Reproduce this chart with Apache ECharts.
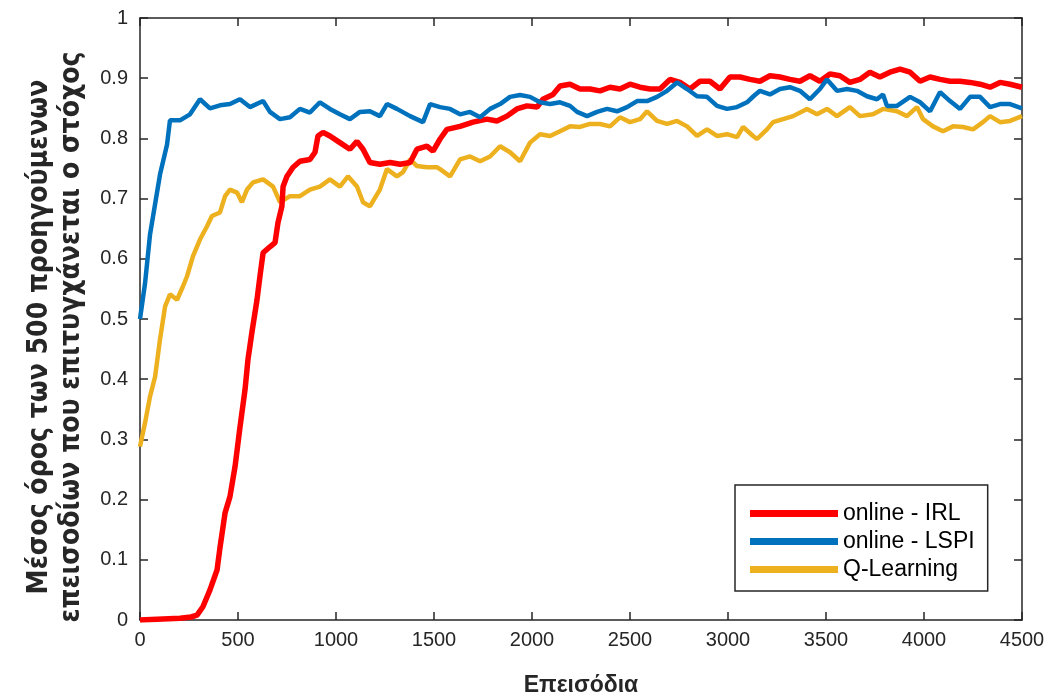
<!DOCTYPE html>
<html>
<head>
<meta charset="utf-8">
<script src="https://cdn.jsdelivr.net/npm/echarts@6/dist/echarts.min.js"></script>
<style>
  html, body { margin: 0; padding: 0; background: #fff; }
  #chart { width: 1054px; height: 698px; }
</style>
</head>
<body>
<div id="chart"></div>
<script>
// episodes and values
const irlX = [0, 204, 260, 291, 321, 357, 393, 408, 434, 459, 485, 510, 536, 551, 571, 597, 612, 628, 663, 689, 704, 724, 730, 750, 781, 816, 867, 893, 908, 934, 969, 1020, 1071, 1107, 1138, 1173, 1224, 1276, 1327, 1378, 1413, 1464, 1495, 1531, 1566, 1633, 1699, 1770, 1821, 1872, 1923, 1974, 2026, 2056, 2107, 2143, 2194, 2245, 2296, 2347, 2398, 2449, 2500, 2551, 2602, 2653, 2704, 2755, 2806, 2857, 2908, 2959, 3010, 3061, 3112, 3163, 3214, 3265, 3316, 3367, 3418, 3469, 3520, 3571, 3622, 3673, 3724, 3775, 3826, 3878, 3929, 3980, 4031, 4082, 4133, 4184, 4235, 4286, 4337, 4388, 4439, 4500]
const irlY = [0, 0.003, 0.005, 0.008, 0.022, 0.05, 0.083, 0.12, 0.178, 0.205, 0.255, 0.32, 0.383, 0.433, 0.478, 0.532, 0.571, 0.61, 0.62, 0.627, 0.66, 0.687, 0.72, 0.737, 0.752, 0.762, 0.765, 0.777, 0.804, 0.81, 0.804, 0.793, 0.782, 0.795, 0.782, 0.76, 0.757, 0.76, 0.757, 0.76, 0.782, 0.787, 0.779, 0.799, 0.815, 0.82, 0.827, 0.832, 0.829, 0.837, 0.849, 0.854, 0.852, 0.865, 0.873, 0.887, 0.89, 0.882, 0.882, 0.879, 0.885, 0.882, 0.89, 0.885, 0.882, 0.882, 0.898, 0.893, 0.882, 0.895, 0.895, 0.882, 0.902, 0.902, 0.898, 0.895, 0.904, 0.902, 0.898, 0.895, 0.904, 0.895, 0.907, 0.904, 0.893, 0.898, 0.91, 0.902, 0.91, 0.915, 0.91, 0.895, 0.902, 0.898, 0.895, 0.895, 0.893, 0.89, 0.885, 0.893, 0.89, 0.885]

const lspiX = [0, 26, 51, 102, 138, 153, 204, 255, 306, 357, 408, 459, 510, 561, 628, 663, 714, 765, 816, 867, 918, 969, 1020, 1071, 1122, 1173, 1224, 1260, 1311, 1378, 1444, 1480, 1531, 1582, 1633, 1684, 1735, 1786, 1837, 1888, 1939, 1990, 2041, 2092, 2143, 2194, 2230, 2281, 2332, 2383, 2434, 2485, 2536, 2587, 2638, 2689, 2740, 2791, 2842, 2893, 2944, 2995, 3046, 3097, 3130, 3163, 3214, 3265, 3316, 3367, 3418, 3469, 3505, 3556, 3607, 3658, 3709, 3760, 3791, 3811, 3862, 3929, 3980, 4031, 4082, 4133, 4184, 4235, 4286, 4337, 4388, 4439, 4500]
const lspiY = [0.5, 0.56, 0.64, 0.74, 0.79, 0.83, 0.83, 0.84, 0.865, 0.85, 0.855, 0.857, 0.865, 0.852, 0.862, 0.844, 0.832, 0.835, 0.849, 0.843, 0.86, 0.849, 0.84, 0.832, 0.844, 0.845, 0.837, 0.857, 0.849, 0.837, 0.827, 0.857, 0.852, 0.849, 0.84, 0.844, 0.835, 0.849, 0.857, 0.869, 0.872, 0.869, 0.86, 0.857, 0.86, 0.854, 0.844, 0.837, 0.844, 0.849, 0.845, 0.852, 0.862, 0.862, 0.869, 0.879, 0.893, 0.882, 0.87, 0.869, 0.854, 0.849, 0.852, 0.86, 0.87, 0.879, 0.873, 0.882, 0.885, 0.879, 0.865, 0.882, 0.898, 0.879, 0.882, 0.879, 0.87, 0.865, 0.873, 0.854, 0.854, 0.869, 0.86, 0.845, 0.877, 0.862, 0.849, 0.869, 0.869, 0.852, 0.857, 0.857, 0.85]

const qlX = [0, 26, 51, 77, 102, 128, 153, 189, 219, 240, 270, 306, 342, 367, 408, 434, 459, 495, 520, 546, 577, 628, 679, 714, 765, 816, 867, 918, 969, 1020, 1061, 1107, 1138, 1173, 1224, 1260, 1311, 1342, 1378, 1413, 1464, 1515, 1531, 1582, 1633, 1684, 1735, 1786, 1837, 1888, 1939, 1990, 2041, 2092, 2143, 2194, 2245, 2296, 2347, 2398, 2449, 2500, 2551, 2587, 2638, 2689, 2740, 2791, 2842, 2893, 2944, 2995, 3046, 3077, 3128, 3148, 3199, 3230, 3281, 3332, 3403, 3454, 3505, 3556, 3622, 3673, 3740, 3791, 3862, 3913, 3964, 3995, 4046, 4097, 4148, 4199, 4250, 4301, 4337, 4388, 4439, 4500]
const qlY = [0.288, 0.328, 0.371, 0.404, 0.466, 0.521, 0.541, 0.532, 0.554, 0.571, 0.604, 0.632, 0.654, 0.671, 0.677, 0.704, 0.715, 0.71, 0.694, 0.715, 0.727, 0.732, 0.72, 0.694, 0.704, 0.704, 0.715, 0.72, 0.732, 0.72, 0.737, 0.72, 0.694, 0.687, 0.715, 0.749, 0.737, 0.744, 0.765, 0.754, 0.752, 0.752, 0.749, 0.737, 0.765, 0.77, 0.762, 0.77, 0.787, 0.777, 0.762, 0.793, 0.807, 0.804, 0.812, 0.82, 0.819, 0.824, 0.824, 0.82, 0.835, 0.827, 0.832, 0.845, 0.829, 0.824, 0.829, 0.82, 0.804, 0.815, 0.804, 0.807, 0.802, 0.819, 0.804, 0.799, 0.815, 0.827, 0.832, 0.837, 0.849, 0.84, 0.849, 0.837, 0.852, 0.837, 0.84, 0.849, 0.845, 0.837, 0.852, 0.832, 0.82, 0.812, 0.82, 0.819, 0.815, 0.827, 0.837, 0.827, 0.829, 0.837]

const names = ['online - IRL', 'online - LSPI', 'Q-Learning']
const colors = ['#ff0000', '#0072bd', '#edb120']

const pairs = (xs, ys) => xs.map((x, i) => [x, ys[i]])

const axisColor = '#262626'
const labelFont = { fontFamily: 'Liberation Sans, Arial, sans-serif', fontSize: 20, color: '#262626' }
const tick = { show: true, inside: true, length: 8, lineStyle: { color: axisColor, width: 1.5 } }
const line = { show: true, onZero: false, lineStyle: { color: axisColor, width: 1.5 } }

const chart = echarts.init(document.getElementById('chart'))
chart.setOption({
  animation: false,
  color: colors,
  grid: { left: 140, right: 32, top: 18, bottom: 78, outerBoundsMode: 'none' },
  legend: {
    orient: 'vertical',
    left: 735,
    top: 485,
    padding: [17, 13, 10, 15],
    itemGap: 5,
    itemWidth: 88,
    itemHeight: 7,
    icon: 'rect',
    borderColor: axisColor,
    borderWidth: 1.5,
    backgroundColor: '#fff',
    textStyle: { fontFamily: 'Liberation Sans, Arial, sans-serif', fontSize: 23, color: '#000' },
    data: names
  },
  xAxis: [{
    type: 'value',
    min: 0, max: 4500, interval: 500,
    name: 'Επεισόδια',
    nameLocation: 'middle',
    nameGap: 54,
    nameTextStyle: { fontFamily: 'Liberation Sans, Arial, sans-serif', fontSize: 23, fontWeight: 'bold', color: '#262626' },
    axisLine: line,
    axisTick: tick,
    axisLabel: Object.assign({ margin: 10, formatter: v => String(v) }, labelFont),
    splitLine: { show: false }
  }, {
    type: 'value', position: 'top',
    min: 0, max: 4500, interval: 500,
    axisLine: line,
    axisTick: tick,
    axisLabel: { show: false },
    splitLine: { show: false }
  }],
  yAxis: [{
    type: 'value',
    min: 0, max: 1, interval: 0.1,
    name: 'Μέσος όρος των 500 προηγούμενων\nεπεισοδίων που επιτυγχάνεται ο στόχος',
    nameLocation: 'middle',
    nameRotate: 90,
    nameGap: 52,
    nameTextStyle: { fontFamily: 'DejaVu Sans Condensed, Liberation Sans Narrow, sans-serif', fontSize: 28, fontWeight: 'bold', color: '#262626', lineHeight: 32, padding: [0, 36, 0, 0] },
    axisLine: line,
    axisTick: tick,
    axisLabel: Object.assign({ margin: 12, formatter: v => String(Math.round(v * 10) / 10) }, labelFont),
    splitLine: { show: false }
  }, {
    type: 'value', position: 'right',
    min: 0, max: 1, interval: 0.1,
    axisLine: line,
    axisTick: tick,
    axisLabel: { show: false },
    splitLine: { show: false }
  }],
  series: [
    { name: names[0], type: 'line', data: pairs(irlX, irlY), showSymbol: false, lineStyle: { width: 5.5 }, z: 3 },
    { name: names[1], type: 'line', data: pairs(lspiX, lspiY), showSymbol: false, lineStyle: { width: 4.5 }, z: 4 },
    { name: names[2], type: 'line', data: pairs(qlX, qlY), showSymbol: false, lineStyle: { width: 4.5 }, z: 2 }
  ]
})
</script>
</body>
</html>
